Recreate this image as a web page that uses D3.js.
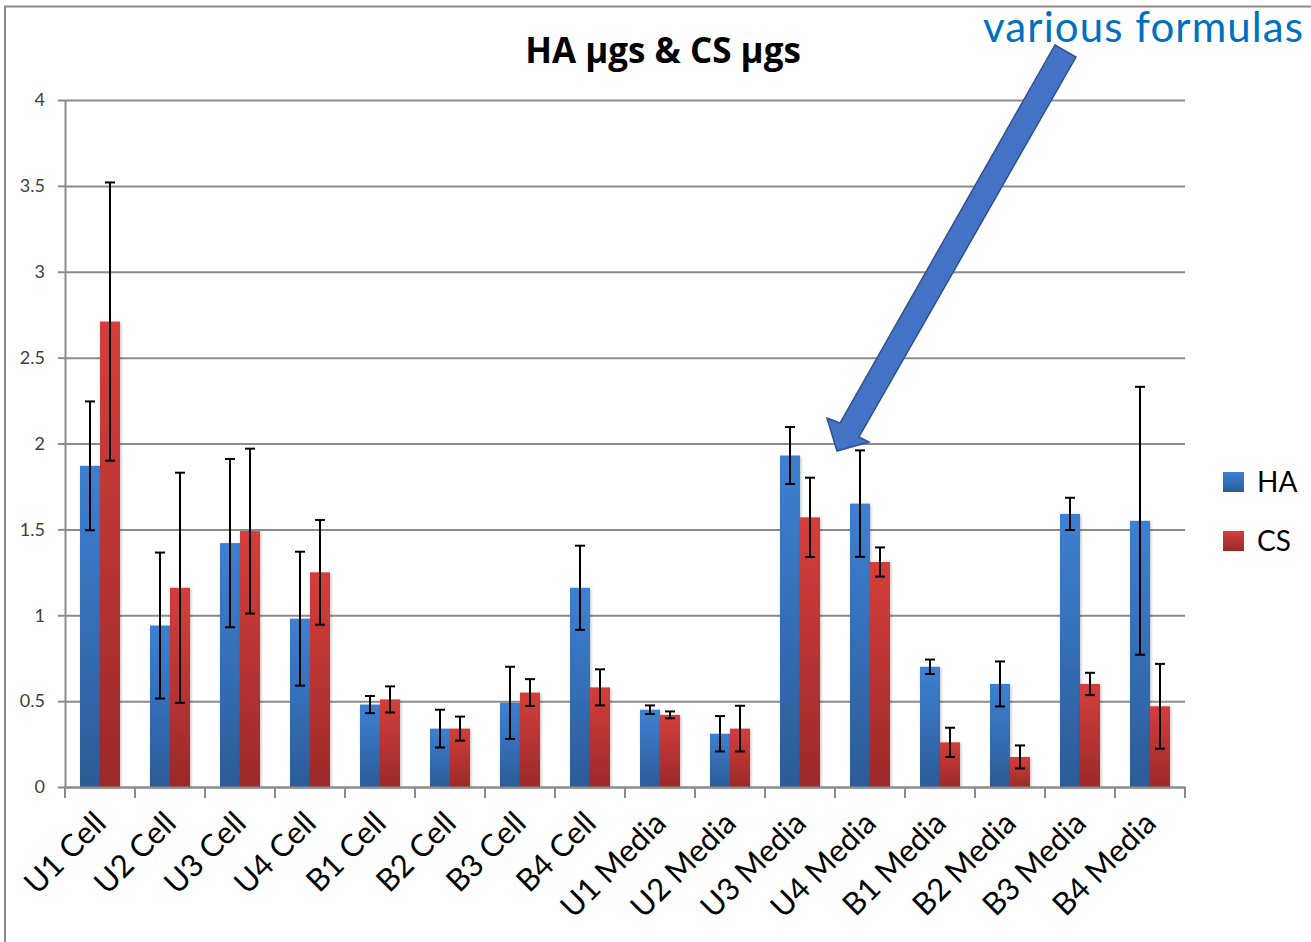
<!DOCTYPE html>
<html>
<head>
<meta charset="utf-8">
<script src="https://cdn.jsdelivr.net/npm/d3@7"></script>
<style>
  body { margin: 0; background: #fff; }
  svg { display: block; }
  text { font-family: Lato, "Open Sans", sans-serif; }
</style>
</head>
<body>
<svg id="chart" width="1311" height="942"></svg>
<script>
var categories = ['U1 Cell', 'U2 Cell', 'U3 Cell', 'U4 Cell', 'B1 Cell', 'B2 Cell', 'B3 Cell', 'B4 Cell',
  'U1 Media', 'U2 Media', 'U3 Media', 'U4 Media', 'B1 Media', 'B2 Media', 'B3 Media', 'B4 Media']
var haValues = [1.87, 0.94, 1.42, 0.98, 0.48, 0.34, 0.49, 1.16, 0.45, 0.31, 1.93, 1.65, 0.70, 0.60, 1.59, 1.55]
var haErrors = [0.375, 0.425, 0.49, 0.39, 0.05, 0.11, 0.21, 0.245, 0.025, 0.103, 0.166, 0.31, 0.042, 0.131, 0.094, 0.78]
var csValues = [2.71, 1.16, 1.49, 1.25, 0.51, 0.34, 0.55, 0.58, 0.42, 0.34, 1.57, 1.31, 0.26, 0.175, 0.60, 0.47]
var csErrors = [0.81, 0.67, 0.48, 0.305, 0.076, 0.07, 0.078, 0.105, 0.02, 0.133, 0.231, 0.085, 0.085, 0.067, 0.065, 0.247]
var yTicks = [0, 0.5, 1, 1.5, 2, 2.5, 3, 3.5, 4]
var seriesNames = ['HA', 'CS']

var svg = d3.select('#chart')
var plot = { top: 100, bottom: 787, left: 65, right: 1185 }

// outer frame
svg.append('rect')
  .attr('x', 5).attr('y', 6.5)
  .attr('width', 1400).attr('height', 1000)
  .attr('fill', 'none').attr('stroke', '#8a8a8a').attr('stroke-width', 2)

var defs = svg.append('defs')
var gradBlue = defs.append('linearGradient').attr('id', 'gBlue').attr('x1', 0).attr('y1', 0).attr('x2', 0).attr('y2', 1)
gradBlue.append('stop').attr('offset', '0%').attr('stop-color', '#3d80d2')
gradBlue.append('stop').attr('offset', '100%').attr('stop-color', '#2c5c98')
var gradRed = defs.append('linearGradient').attr('id', 'gRed').attr('x1', 0).attr('y1', 0).attr('x2', 0).attr('y2', 1)
gradRed.append('stop').attr('offset', '0%').attr('stop-color', '#d43e3b')
gradRed.append('stop').attr('offset', '100%').attr('stop-color', '#9c2a2a')
var shadow = defs.append('filter').attr('id', 'shadow').attr('x', '-20%').attr('y', '-5%').attr('width', '140%').attr('height', '110%')
shadow.append('feDropShadow').attr('dx', 1).attr('dy', 1).attr('stdDeviation', 1.5).attr('flood-color', '#000').attr('flood-opacity', 0.25)

var xScale = d3.scaleBand().domain(categories).range([plot.left, plot.right])
var xInner = d3.scaleBand().domain(seriesNames).range([0, xScale.bandwidth()]).paddingOuter(0.75).paddingInner(0)
var yScale = d3.scaleLinear().domain([0, 4]).range([plot.bottom, plot.top])

// gridlines + y axis
svg.append('g')
  .attr('class', 'grid')
  .attr('transform', 'translate(' + plot.left + ',0)')
  .call(d3.axisLeft(yScale).tickValues(yTicks).tickSizeInner(-(plot.right - plot.left)).tickSizeOuter(0).tickFormat(''))
  .call(function(g) {
    g.select('.domain').remove()
    g.selectAll('line').attr('stroke', '#8c8c8c').attr('stroke-width', 2)
  })

svg.append('g')
  .attr('class', 'leftAxis')
  .attr('transform', 'translate(' + plot.left + ',0)')
  .call(d3.axisLeft(yScale).tickValues(yTicks).tickSizeInner(7).tickSizeOuter(0).tickPadding(13).tickFormat(d3.format('')))
  .call(function(g) {
    g.select('.domain').attr('stroke', '#8c8c8c').attr('stroke-width', 2)
    g.selectAll('line').attr('stroke', '#8c8c8c').attr('stroke-width', 2)
    g.selectAll('text').attr('fill', '#404040').attr('font-size', '18px')
      .style('font-family', 'Lato, sans-serif')
  })

var groups = svg.append('g').selectAll('g')
  .data(categories)
  .enter()
  .append('g')
  .attr('transform', function(d) { return 'translate(' + xScale(d) + ',0)' })

var series = [
  { name: 'HA', values: haValues, errors: haErrors, fill: 'url(#gBlue)' },
  { name: 'CS', values: csValues, errors: csErrors, fill: 'url(#gRed)' }
]

series.forEach(function(s) {
  groups.append('rect')
    .attr('x', xInner(s.name))
    .attr('width', xInner.bandwidth())
    .attr('y', function(d, i) { return yScale(s.values[i]) })
    .attr('height', function(d, i) { return plot.bottom - yScale(s.values[i]) })
    .attr('fill', s.fill)
    .attr('filter', 'url(#shadow)')
})

// x axis drawn over bars
svg.append('g')
  .attr('class', 'bottomAxis')
  .attr('transform', 'translate(0,' + plot.bottom + ')')
  .call(d3.axisBottom(xScale).tickSize(0).tickFormat(''))
  .call(function(g) {
    g.select('.domain').attr('stroke', '#8c8c8c').attr('stroke-width', 2)
  })

svg.append('g').selectAll('line')
  .data(d3.range(categories.length + 1))
  .enter()
  .append('line')
  .attr('x1', function(i) { return plot.left + i * xScale.step() })
  .attr('x2', function(i) { return plot.left + i * xScale.step() })
  .attr('y1', plot.bottom).attr('y2', plot.bottom + 11)
  .attr('stroke', '#8c8c8c').attr('stroke-width', 2)

// error bars
series.forEach(function(s) {
  var cx = xInner(s.name) + xInner.bandwidth() / 2
  var eb = groups.append('g').attr('stroke', '#000').attr('stroke-width', 2)
  eb.append('line')
    .attr('x1', cx).attr('x2', cx)
    .attr('y1', function(d, i) { return yScale(s.values[i] + s.errors[i]) })
    .attr('y2', function(d, i) { return yScale(s.values[i] - s.errors[i]) })
  eb.append('line')
    .attr('x1', cx - 5).attr('x2', cx + 5)
    .attr('y1', function(d, i) { return yScale(s.values[i] + s.errors[i]) })
    .attr('y2', function(d, i) { return yScale(s.values[i] + s.errors[i]) })
  eb.append('line')
    .attr('x1', cx - 5).attr('x2', cx + 5)
    .attr('y1', function(d, i) { return yScale(s.values[i] - s.errors[i]) })
    .attr('y2', function(d, i) { return yScale(s.values[i] - s.errors[i]) })
})

// category labels
groups.append('text')
  .text(function(d) { return d })
  .attr('text-anchor', 'end')
  .attr('font-size', '31px')
  .attr('fill', '#000')
  .attr('transform', 'translate(' + (xScale.bandwidth() / 2 + 8) + ',' + (plot.bottom + 38) + ') rotate(-45)')

// title
svg.append('text')
  .text('HA µgs & CS µgs')
  .attr('x', 663).attr('y', 63)
  .attr('text-anchor', 'middle')
  .attr('font-size', '35px')
  .attr('font-weight', 'bold')
  .style('font-family', '"Open Sans", sans-serif')
  .attr('fill', '#000')

// legend
var legend = svg.append('g').attr('transform', 'translate(1223,472)')
series.forEach(function(s, i) {
  legend.append('rect')
    .attr('x', 0).attr('y', i * 59)
    .attr('width', 21).attr('height', 20)
    .attr('fill', s.fill)
  legend.append('text')
    .text(s.name)
    .attr('x', 34).attr('y', i * 59 + 20)
    .attr('font-size', '28px')
    .attr('fill', '#000')
})

// annotation arrow
svg.append('polygon')
  .attr('points', [[1055, 45], [1076, 57], [859, 437], [869, 442], [837, 451], [827, 418], [840, 423]].join(' '))
  .attr('fill', '#4472c4')
  .attr('stroke', '#2f528f')
  .attr('stroke-width', 1.5)

svg.append('text')
  .text('various formulas')
  .attr('x', 983).attr('y', 42)
  .attr('font-size', '42px')
  .attr('textLength', 320)
  .attr('lengthAdjust', 'spacing')
  .attr('fill', '#0070c0')
</script>
</body>
</html>
